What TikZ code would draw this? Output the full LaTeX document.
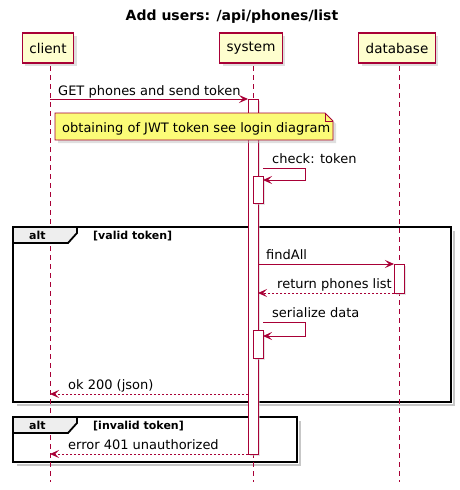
\documentclass[tikz,border=0pt]{standalone}
\usepackage{fontspec}
\setmainfont{DejaVu Sans}
\usetikzlibrary{arrows.meta, shadows, calc}
\definecolor{umlred}{HTML}{A80036}
\definecolor{umlbox}{HTML}{FEFECE}
\definecolor{umlnote}{HTML}{FBFB77}
\definecolor{umltab}{HTML}{EEEEEE}

\begin{document}
\begin{tikzpicture}[x=1pt, y=-1pt,
  actor/.style={draw=umlred, fill=umlbox, line width=1.3pt, minimum height=30pt, inner xsep=7pt,
    font=\fontsize{13.5}{16}\selectfont, drop shadow={shadow xshift=3pt, shadow yshift=-3pt, fill=black!25}},
  life/.style={draw=umlred, line width=0.6pt, dash pattern=on 5pt off 4pt},
  msg/.style={draw=umlred, line width=1pt, -{Stealth[length=9pt, width=8pt, inset=4pt]}},
  reply/.style={msg, dash pattern=on 2pt off 2pt},
  activ/.style={draw=umlred, fill=white, line width=1pt, drop shadow={shadow xshift=2pt, shadow yshift=-2pt, fill=black!20}},
  lbl/.style={font=\fontsize{13}{15}\selectfont, inner sep=0pt, anchor=base west},
  frm/.style={draw=black, line width=1.8pt},
  frmshadow/.style={draw=black!22, line width=2.5pt},
  cond/.style={font=\bfseries\fontsize{11}{13}\selectfont, inner sep=0pt, anchor=base west},
]
\useasboundingbox (0,0) rectangle (460,490);

% title and participants
\node[font=\bfseries\fontsize{14}{16}\selectfont] (title) at (232,17) {Add users: /api/phones/list};
\node[actor] (client) at (48,48) {client};
\node[actor] (system) at (251,48) {system};
\node[actor] (database) at (397,48) {database};

% alt frames
\draw[frmshadow] (454,231) -- (454,405) -- (17,405);
\draw[frm] (13,227) rectangle (451,402);
\draw[frmshadow] (300,421) -- (300,465) -- (17,465);
\draw[frm] (13,417) rectangle (297,462);

% lifelines
\draw[life] (50,66) -- (50,482);
\draw[life] (253,66) -- (253,482);
\draw[life] (399,66) -- (399,482);

% frame tabs
\draw[frm, fill=umltab] (13,227) -- (77,227) -- (77,233) -- (68,243) -- (13,243) -- cycle;
\node[cond] (alt1) at (29,239) {alt};
\node[cond] (valid) at (93,239) {[valid token]};
\draw[frm, fill=umltab] (13,417) -- (77,417) -- (77,423) -- (68,433) -- (13,433) -- cycle;
\node[cond] (alt2) at (29,429) {alt};
\node[cond] (invalid) at (93,429) {[invalid token]};

% activations
\draw[activ] (248,99) rectangle (258,454);
\draw[activ] (253,176) rectangle (263,203);
\draw[activ] (253,330) rectangle (263,358);
\draw[activ] (394,264) rectangle (404,293);

% note
\draw[draw=umlred, fill=umlnote, line width=0.8pt, drop shadow={shadow xshift=3pt, shadow yshift=-3pt, fill=black!25}]
  (55,113) -- (325,113) -- (333,121) -- (333,140) -- (55,140) -- cycle;
\draw[draw=umlred, line width=0.8pt] (325,113) -- (325,121) -- (333,121);
\node[lbl] (note) at (62,132) {obtaining of JWT token see login diagram};

% messages
\coordinate (c1) at (50,99);   \coordinate (s1) at (248,99);
\coordinate (s2) at (263,168); \coordinate (s3) at (263,180);
\coordinate (s4) at (258,264); \coordinate (d1) at (394,264);
\coordinate (d2) at (394,293); \coordinate (s5) at (258,293);
\coordinate (s6) at (263,322); \coordinate (s7) at (263,336);
\coordinate (s8) at (248,394); \coordinate (c2) at (50,394);
\coordinate (s9) at (248,454); \coordinate (c3) at (50,454);

\draw[msg] (c1) -- (s1);
\node[lbl] (get) at (58,95) {GET phones and send token};
\draw[msg] (s2) -- ++(42,0) |- (s3);
\node[lbl] (check) at (272,163) {check: token};
\draw[msg] (s4) -- (d1);
\node[lbl] (find) at (266,259) {findAll};
\draw[reply] (d2) -- (s5);
\node[lbl] (ret) at (277,288) {return phones list};
\draw[msg] (s6) -- ++(42,0) |- (s7);
\node[lbl] (ser) at (272,317) {serialize data};
\draw[reply] (s8) -- (c2);
\node[lbl] (ok) at (68,389) {ok 200 (json)};
\draw[reply] (s9) -- (c3);
\node[lbl] (err) at (68,449) {error 401 unauthorized};
\end{tikzpicture}
\end{document}
